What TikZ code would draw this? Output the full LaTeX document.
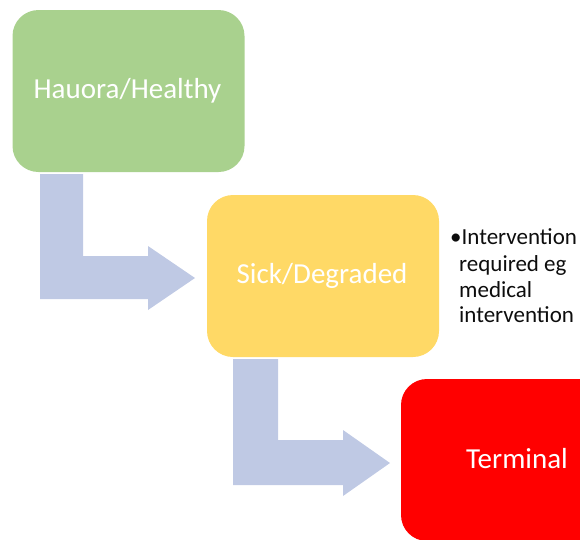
\documentclass[tikz,border=0pt]{standalone}
\usepackage{fontspec}
\setmainfont{Carlito}
\definecolor{boxgreen}{HTML}{A9D18E}
\definecolor{boxyellow}{HTML}{FFD966}
\definecolor{boxred}{HTML}{FF0000}
\definecolor{arrowblue}{RGB}{191,201,228}
\tikzset{
  stage/.style={rounded corners=26pt, minimum width=232pt, minimum height=162pt, inner sep=0pt, draw=none},
  stagetext/.style={text=white, font=\fontsize{29}{33}\selectfont, anchor=base, inner sep=0pt},
  bendarrow/.style={fill=arrowblue, draw=none},
  notetext/.style={text=black!95, font=\fontsize{23}{26}\selectfont, anchor=base west, inner sep=0pt}
}
\begin{document}
\begin{tikzpicture}[x=1pt,y=-1pt]
\useasboundingbox (0,0) rectangle (580,539);
\clip (0,0) rectangle (580,539);
% stages
\node[stage, fill=boxgreen] (healthy) at (128.5,91) {};
\node[stage, fill=boxyellow] (sick) at (323,276) {};
\node[stage, fill=boxred] (terminal) at (517,460) {};
\node[stagetext] (healthytxt) at (127.5,98) {Hauora/Healthy};
\node[stagetext] (sicktxt) at (322,283) {Sick/Degraded};
\node[stagetext] (terminaltxt) at (517,468) {Terminal};
% bent arrows
\draw[bendarrow] (40,174) -- (83,174) -- (83,256) -- (148,256) -- (148,246) -- (195,278) -- (148,310) -- (148,299) -- (40,299) -- cycle;
\draw[bendarrow] (233,359) -- (278,359) -- (278,440) -- (343,440) -- (343,430) -- (390,463) -- (343,496) -- (343,485) -- (233,485) -- cycle;
% note
\node[notetext] (n1) at (450,244) {\textbullet Intervention};
\node[notetext] (n2) at (459,271) {required eg};
\node[notetext] (n3) at (459,297) {medical};
\node[notetext] (n4) at (459,322) {intervention};
\end{tikzpicture}
\end{document}
